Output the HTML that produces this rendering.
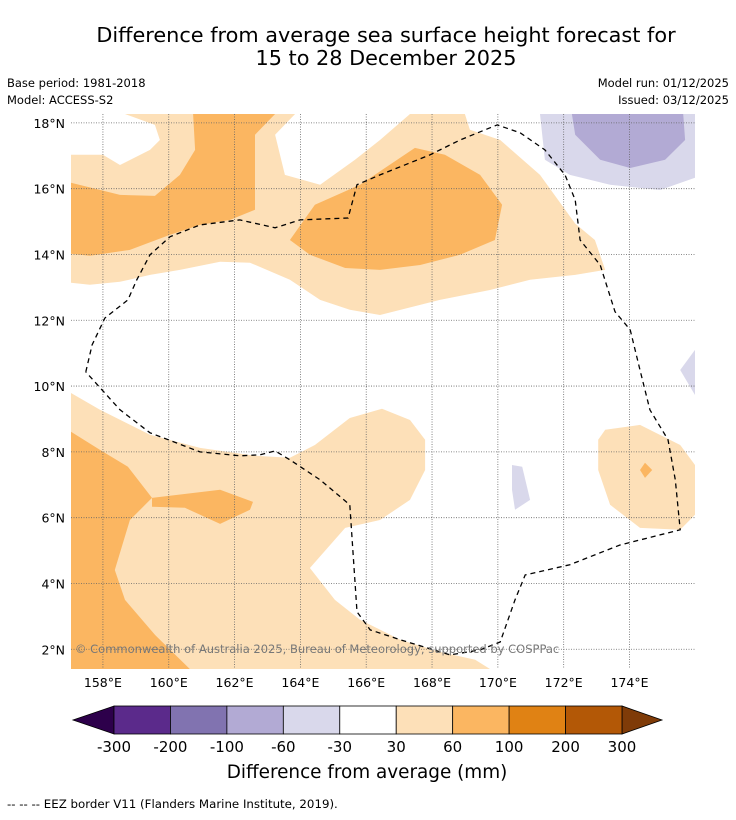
<!DOCTYPE html>
<html><head><meta charset="utf-8">
<style>
body{margin:0;background:#fff;width:736px;height:816px;overflow:hidden;font-family:"DejaVu Sans",sans-serif;}
svg text{font-family:"DejaVu Sans",sans-serif;}
</style></head>
<body>
<svg id="chart" width="736" height="816" xmlns="http://www.w3.org/2000/svg">
<text x="386" y="42" font-size="20.8" text-anchor="middle">Difference from average sea surface height forecast for</text>
<text x="386" y="65" font-size="20.8" text-anchor="middle">15 to 28 December 2025</text>
<text x="7" y="87" font-size="11.5">Base period: 1981-2018</text>
<text x="7" y="104" font-size="11.5">Model: ACCESS-S2</text>
<text x="729" y="87" font-size="11.5" text-anchor="end">Model run: 01/12/2025</text>
<text x="729" y="104" font-size="11.5" text-anchor="end">Issued: 03/12/2025</text>
<g id="map"></g>
<g id="cbar"></g>
<text x="367" y="778" font-size="18.4" text-anchor="middle">Difference from average (mm)</text>
<text x="7" y="808" font-size="11.8">--  --  -- EEZ border V11 (Flanders Marine Institute, 2019).</text>
</svg>
<script>
const lonTicks=[158,160,162,164,166,168,170,172,174];
const latTicks=[2,4,6,8,10,12,14,16,18];
const cbLevels=[-300,-200,-100,-60,-30,30,60,100,200,300];
const cbColors=["#5b2a8b","#8173b0","#b2aad4","#d9d8eb","#ffffff","#fde0b8","#fbb661","#e08214","#b35806"];
const cbLow="#2d004b", cbHigh="#7f3b08";
const lightOrange=[[157.03,17.03],[158,17.03],[158.52,16.72],[159.43,17.18],[159.73,17.48],[159.58,17.94],[158.67,18.27],[163.84,18.27],[163.23,17.64],[163.53,16.42],[164.6,16.12],[165.66,16.88],[166.42,17.48],[167.33,18.27],[169,18.27],[169.15,17.79],[170.07,17.48],[171.28,16.42],[172.35,14.94],[172.95,14.44],[173.26,13.53],[172.35,13.38],[170.98,13.23],[169.76,12.92],[168.24,12.62],[166.42,12.16],[165.5,12.32],[164.6,12.62],[163.68,13.23],[162.47,13.75],[161.56,13.78],[160.34,13.53],[159.43,13.38],[158.52,13.17],[157.6,13.08],[157.03,13.14]];
const darkOrangeA=[[157.03,16.18],[158.52,15.81],[159.58,15.78],[160.34,16.42],[160.8,17.18],[160.74,18.27],[163.23,18.27],[162.62,17.64],[162.62,15.36],[161.86,15.05],[160.95,14.9],[160.04,14.6],[158.82,14.14],[157.6,13.96],[157.03,14.02]];
const darkOrangeB=[[163.68,14.44],[164.44,15.51],[165.81,16.12],[167.48,17.24],[168.39,17.03],[169.46,16.42],[170.13,15.51],[169.91,14.44],[168.85,13.99],[167.64,13.68],[166.42,13.53],[165.36,13.59],[164.29,13.99]];
const lightOrangeS=[[157.03,9.79],[157.91,9.28],[159.43,8.52],[160.95,8.12],[162.62,7.88],[163.68,7.82],[164.44,8.21],[165.5,9.03],[166.48,9.31],[167.33,8.97],[167.79,8.37],[167.79,7.45],[167.33,6.54],[166.42,5.93],[165.36,5.69],[164.29,4.47],[165.05,3.5],[165.81,2.9],[167.03,2.29],[168.24,1.92],[169.31,1.68],[169.76,1.4],[157.03,1.4]];
const darkOrangeS=[[157.03,8.61],[157.91,8.06],[158.76,7.55],[159.49,6.6],[158.82,5.93],[158.36,4.41],[158.67,3.5],[159.58,2.44],[160.64,1.4],[157.03,1.4]];
const darkOrangeP=[[159.49,6.6],[161.56,6.85],[162.56,6.48],[162.47,6.24],[161.56,5.81],[160.49,6.3],[159.49,6.33]];
const lightOrangeE=[[173.05,8.37],[173.26,8.67],[174.32,8.82],[175.54,8.21],[175.99,7.6],[175.99,6.09],[175.54,5.63],[174.32,5.69],[173.41,6.39],[173.05,7.45]];
const darkOrangeE=[[174.32,7.45],[174.47,7.67],[174.69,7.45],[174.47,7.21]];
const purpleLight=[[171.28,18.27],[171.43,16.88],[172.19,16.42],[173.41,16.12],[174.93,15.96],[175.99,16.33],[175.99,18.27]];
const purpleMid=[[172.25,18.27],[172.35,17.64],[173.11,16.88],[174.02,16.63],[175.08,16.88],[175.69,17.48],[175.63,18.27]];
const purpleSmall=[[170.43,7.6],[170.74,7.55],[170.98,6.54],[170.52,6.24],[170.43,6.85]];
const purpleEdge=[[175.54,10.49],[175.99,11.1],[175.99,9.73]];
const eez=[[157.48,10.43],[157.67,11.25],[158.06,12.07],[158.76,12.62],[159.03,13.23],[159.43,13.99],[160.04,14.54],[160.95,14.9],[162.16,15.05],[163.23,14.81],[163.99,15.05],[165.45,15.11],[165.72,16.12],[166.42,16.42],[167.94,17.03],[168.85,17.48],[169.98,17.94],[170.68,17.7],[171.43,17.18],[172.04,16.42],[172.35,15.66],[172.5,14.44],[173.11,13.68],[173.56,12.26],[174.02,11.71],[174.32,10.49],[174.62,9.28],[175.17,8.37],[175.39,7.15],[175.54,5.63],[173.71,5.17],[172.19,4.57],[170.83,4.26],[170.52,3.5],[170.07,2.22],[169.46,1.98],[168.55,1.83],[167.03,2.29],[166.12,2.59],[165.72,3.14],[165.5,6.39],[164.6,7.15],[163.68,7.76],[163.23,8.03],[162.77,7.91],[162.16,7.88],[160.95,8.0],[159.43,8.58],[158.52,9.28],[157.48,10.43]];

const NS="http://www.w3.org/2000/svg";
const X0=71,X1=695,Y0=114,Y1=669;
const LON0=157.03,LON1=175.99,LAT0=1.4,LAT1=18.27;
function xs(lon){return X0+(lon-LON0)/(LON1-LON0)*(X1-X0);}
function ys(lat){return Y1-(lat-LAT0)/(LAT1-LAT0)*(Y1-Y0);}
function mk(tag,attrs,parent){const e=document.createElementNS(NS,tag);for(const k in attrs)e.setAttribute(k,attrs[k]);parent.appendChild(e);return e;}
const map=document.getElementById('map');
const defs=mk('defs',{},map);
const cp=mk('clipPath',{id:'clip'},defs);
mk('rect',{x:X0,y:Y0,width:X1-X0,height:Y1-Y0},cp);
const g=mk('g',{'clip-path':'url(#clip)'},map);
function poly(pts,fill,name){
  const p=mk('polygon',{points:pts.map(q=>xs(q[0]).toFixed(1)+','+ys(q[1]).toFixed(1)).join(' '),fill:fill},g);
  
  
}
poly(lightOrange,cbColors[5],'contour-30-60-north');
poly(darkOrangeA,cbColors[6],'contour-60-100-northwest');
poly(darkOrangeB,cbColors[6],'contour-60-100-north-central');
poly(lightOrangeS,cbColors[5],'contour-30-60-south');
poly(darkOrangeS,cbColors[6],'contour-60-100-southwest');
poly(darkOrangeP,cbColors[6],'contour-60-100-patch');
poly(lightOrangeE,cbColors[5],'contour-30-60-east');
poly(darkOrangeE,cbColors[6],'contour-60-100-east');
poly(purpleLight,cbColors[3],'contour-neg30-neg60-northeast');
poly(purpleMid,cbColors[2],'contour-neg60-neg100-northeast');
poly(purpleSmall,cbColors[3],'contour-neg30-neg60-small');
poly(purpleEdge,cbColors[3],'contour-neg30-neg60-edge');
lonTicks.forEach(l=>{
  const ln=mk('line',{x1:xs(l),x2:xs(l),y1:Y0,y2:Y1,stroke:'#666','stroke-width':0.8,'stroke-dasharray':'1,1.5'},g);
  
  
  const t=mk('text',{x:xs(l),y:687,'font-size':12.5,'text-anchor':'middle'},map);
  t.textContent=l+'°E';
  
  
});
latTicks.forEach(l=>{
  const ln=mk('line',{x1:X0,x2:X1,y1:ys(l),y2:ys(l),stroke:'#666','stroke-width':0.8,'stroke-dasharray':'1,1.5'},g);
  
  
  const t=mk('text',{x:65,y:ys(l)+5,'font-size':12.5,'text-anchor':'end'},map);
  t.textContent=l+'°N';
  
  
});
const ez=mk('polyline',{points:eez.map(q=>xs(q[0]).toFixed(1)+','+ys(q[1]).toFixed(1)).join(' '),fill:'none',stroke:'#000','stroke-width':1.3,'stroke-dasharray':'5,4'},g);


const cr=mk('text',{x:75,y:653,'font-size':11.5,fill:'#777'},map);
cr.textContent='© Commonwealth of Australia 2025, Bureau of Meteorology, supported by COSPPac';



const cb=document.getElementById('cbar');
const CX0=114,CX1=622,CY0=706,CY1=734;
const n=cbColors.length, w=(CX1-CX0)/n;
function cx(i){return CX0+i*w;}
const tl=mk('polygon',{points:`73,720 ${CX0},${CY0} ${CX0},${CY1}`,fill:cbLow,stroke:'#000','stroke-width':0.8},cb);


const tr=mk('polygon',{points:`662,720 ${CX1},${CY0} ${CX1},${CY1}`,fill:cbHigh,stroke:'#000','stroke-width':0.8},cb);


cbColors.forEach((c,i)=>{
  const r=mk('rect',{x:cx(i),y:CY0,width:w,height:CY1-CY0,fill:c,stroke:'#000','stroke-width':0.8},cb);
  
  
});
cbLevels.forEach((v,i)=>{
  const t=mk('text',{x:cx(i),y:752,'font-size':15,'text-anchor':'middle'},cb);
  t.textContent=v;
  
  
});
</script>
</body></html>
